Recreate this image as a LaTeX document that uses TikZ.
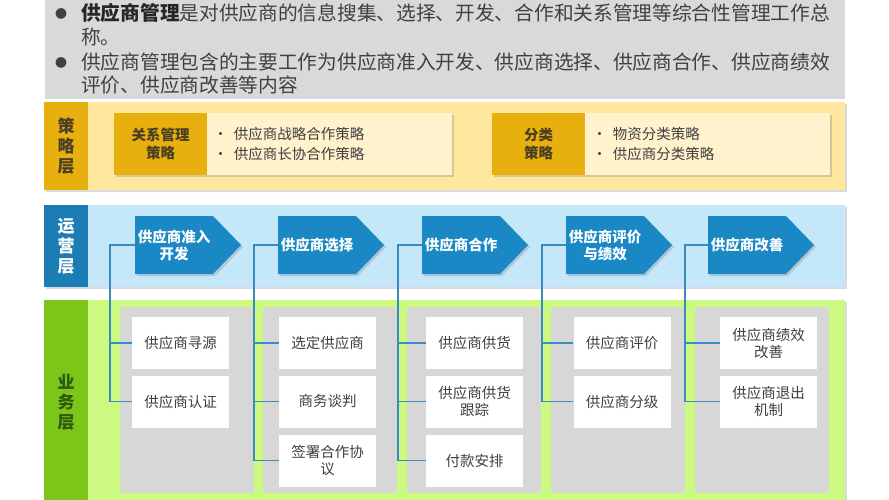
\documentclass[tikz,border=0pt]{standalone}
\usepackage{fontspec}
\setmainfont{Noto Sans CJK SC}
\usetikzlibrary{shapes.symbols,shadows}

\definecolor{topgray}{HTML}{D9D9D9}
\definecolor{stratband}{HTML}{FFE79E}
\definecolor{stratgold}{HTML}{E8B00E}
\definecolor{stratcream}{HTML}{FFF2CC}
\definecolor{stratink}{HTML}{4A3F22}
\definecolor{opband}{HTML}{C4E8FA}
\definecolor{opblue}{HTML}{1C7DB4}
\definecolor{arrowblue}{HTML}{1A88C4}
\definecolor{busband}{HTML}{CCFA80}
\definecolor{busgreen}{HTML}{7CC61A}
\definecolor{busink}{HTML}{2E5A0E}
\definecolor{colgray}{HTML}{D7D7D7}
\definecolor{inkgray}{HTML}{404040}
\definecolor{linkblue}{HTML}{3A8CC0}

\tikzset{
  shade/.style={drop shadow={opacity=0.3,shadow xshift=2pt,shadow yshift=-2pt}},
  layer/.style={minimum width=44pt,inner sep=0pt,align=center,
    font=\fontsize{17}{20}\selectfont\bfseries},
  toptext/.style={anchor=base west,inner sep=0pt,text=inkgray,
    font=\fontsize{19.7}{23.5}\selectfont},
  topdot/.style={inner sep=0pt,text=inkgray,font=\fontsize{12}{14}\selectfont},
  stratbox/.style={fill=stratcream,shade,minimum width=338pt,minimum height=62pt,inner sep=0pt},
  stratlabel/.style={fill=stratgold,minimum width=93pt,minimum height=62pt,inner sep=0pt,
    align=center,text=stratink,font=\fontsize{14.5}{18}\selectfont\bfseries},
  stratlist/.style={anchor=west,align=left,inner sep=0pt,text=inkgray,
    font=\fontsize{14.5}{19.5}\selectfont},
  flow/.style={shape=signal,signal to=east,signal pointer angle=92,fill=arrowblue,shade,
    minimum width=106pt,minimum height=58pt,inner sep=0pt,align=center,text=white,
    font=\fontsize{14.5}{17}\selectfont\bfseries},
  task/.style={fill=white,minimum width=97pt,minimum height=52pt,inner sep=0pt,
    align=center,text=inkgray,font=\fontsize{14.5}{17}\selectfont},
  link/.style={draw=linkblue,line width=1.1pt}
}

\begin{document}
\begin{tikzpicture}[x=1pt,y=-1pt]
\useasboundingbox (0,0) rectangle (889,500);

% intro text
\fill[topgray] (45,0) rectangle (845,99);
\node[topdot] (dot1) at (61,14) {●};
\node[topdot] (dot2) at (61,63) {●};
\node[toptext] (intro1) at (81,20.5) {\textbf{\color{black!85}供应商管理}是对供应商的信息搜集、选择、开发、合作和关系管理等综合性管理工作总};
\node[toptext] (intro2) at (81,44.5) {称。};
\node[toptext] (intro3) at (81,70) {供应商管理包含的主要工作为供应商准入开发、供应商选择、供应商合作、供应商绩效};
\node[toptext] (intro4) at (81,93) {评价、供应商改善等内容};

% strategy layer
\fill[stratband,shade] (44,102) rectangle (845,190);
\node[layer,fill=stratgold,minimum height=88pt,text=stratink] (strat) at (66,146) {策\\略\\层};
\node[stratbox] (sbox1) at (283,144) {};
\node[stratlabel,anchor=west] (slab1) at (sbox1.west) {关系管理\\策略};
\node[stratlist] (slist1) at ([xshift=6pt]slab1.east) {•\hspace{6pt}供应商战略合作策略\\•\hspace{6pt}供应商长协合作策略};
\node[stratbox] (sbox2) at (661,144) {};
\node[stratlabel,anchor=west] (slab2) at (sbox2.west) {分类\\策略};
\node[stratlist] (slist2) at ([xshift=7pt]slab2.east) {•\hspace{6pt}物资分类策略\\•\hspace{6pt}供应商分类策略};

% operation layer
\fill[opband,shade] (44,205) rectangle (845,287);
\node[layer,fill=opblue,minimum height=82pt,text=white] (oper) at (66,246) {运\\营\\层};
\node[flow] (f1) at (174,245) {供应商准入\\开发};
\node[flow] (f2) at (317,245) {供应商选择};
\node[flow] (f3) at (461,245) {供应商合作};
\node[flow] (f4) at (605,245) {供应商评价\\与绩效};
\node[flow] (f5) at (747,245) {供应商改善};

% business layer
\fill[busband,shade] (44,300) rectangle (845,505);
\node[layer,fill=busgreen,minimum height=205pt,text=busink] (bus) at (66,402.5) {业\\务\\层};
\fill[colgray] (120,307) rectangle ++(134,186);
\fill[colgray] (263,307) rectangle ++(134,186);
\fill[colgray] (407,307) rectangle ++(134,186);
\fill[colgray] (551,307) rectangle ++(134,186);
\fill[colgray] (695,307) rectangle ++(134,186);

\node[task] (t11) at (180.5,343) {供应商寻源};
\node[task] (t12) at (180.5,401.5) {供应商认证};
\node[task] (t21) at (327.5,343) {选定供应商};
\node[task] (t22) at (327.5,401.5) {商务谈判};
\node[task] (t23) at (327.5,460.5) {签署合作协\\议};
\node[task] (t31) at (474.5,343) {供应商供货};
\node[task] (t32) at (474.5,401.5) {供应商供货\\跟踪};
\node[task] (t33) at (474.5,460.5) {付款安排};
\node[task] (t41) at (622,343) {供应商评价};
\node[task] (t42) at (622,401.5) {供应商分级};
\node[task] (t51) at (768.5,343) {供应商绩效\\改善};
\node[task] (t52) at (768.5,401.5) {供应商退出\\机制};

% links from steps to tasks
\coordinate (j1) at (110,245);
\coordinate (j2) at (254,245);
\coordinate (j3) at (398,245);
\coordinate (j4) at (542,245);
\coordinate (j5) at (685,245);
\draw[link] (f1.west) -- (j1) |- (t12.west);
\draw[link] (j1) |- (t11.west);
\draw[link] (f2.west) -- (j2) |- (t23.west);
\draw[link] (j2) |- (t21.west);
\draw[link] (j2) |- (t22.west);
\draw[link] (f3.west) -- (j3) |- (t33.west);
\draw[link] (j3) |- (t31.west);
\draw[link] (j3) |- (t32.west);
\draw[link] (f4.west) -- (j4) |- (t42.west);
\draw[link] (j4) |- (t41.west);
\draw[link] (f5.west) -- (j5) |- (t52.west);
\draw[link] (j5) |- (t51.west);
\end{tikzpicture}
\end{document}
